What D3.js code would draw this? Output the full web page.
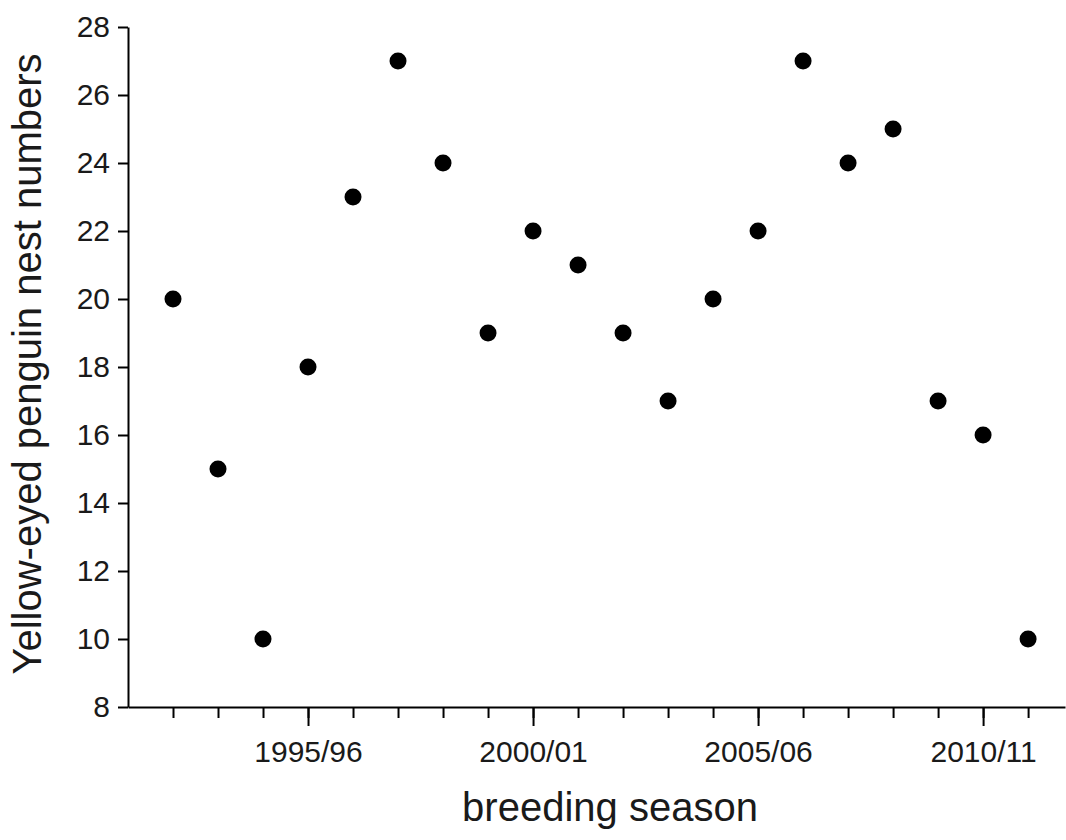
<!DOCTYPE html>
<html>
<head>
<meta charset="utf-8" />
<title>Yellow-eyed penguin nests</title>
<script src="https://cdn.jsdelivr.net/npm/d3@7"></script>
<style>
    body { margin: 0; background: #fff; }
    svg { display: block; font-family: "Liberation Sans", Arial, sans-serif; }
    .axis path, .axis line { stroke: #000; stroke-width: 2px; }
    .axis text { fill: #1a1a1a; font-size: 30px; }
</style>
</head>
<body>
<svg id="CHART" width="1066" height="840"></svg>
<script>
    // breeding season start years and nest counts
    var seasons = [1992, 1993, 1994, 1995, 1996, 1997, 1998, 1999, 2000, 2001,
                   2002, 2003, 2004, 2005, 2006, 2007, 2008, 2009, 2010, 2011];
    var nests = [20, 15, 10, 18, 23, 27, 24, 19, 22, 21,
                 19, 17, 20, 22, 27, 24, 25, 17, 16, 10];
    var majorYears = [1995, 2000, 2005, 2010];
    var majorLabels = ["1995/96", "2000/01", "2005/06", "2010/11"];
    var yTicks = [8, 10, 12, 14, 16, 18, 20, 22, 24, 26, 28];

    var svg = d3.select("#CHART");

    var x = d3.scaleLinear().domain([1991, 2011.82]).range([128, 1065]);
    var y = d3.scaleLinear().domain([8, 28]).range([707, 27]);

    //minor ticks every season
    svg.append("g")
        .attr("class", "axis")
        .attr("transform", "translate(0," + y(8) + ")")
        .call(d3.axisBottom(x).tickValues(seasons).tickSize(11).tickSizeOuter(0).tickFormat(""));

    //major ticks with labels
    var xMajor = svg.append("g")
        .attr("class", "axis")
        .attr("transform", "translate(0," + y(8) + ")")
        .call(d3.axisBottom(x).tickValues(majorYears).tickSize(19).tickSizeOuter(0)
            .tickFormat(function (d, i) { return majorLabels[i]; }));
    xMajor.select(".domain").remove();
    xMajor.selectAll("text").attr("y", 55).attr("dy", 0);

    var yAxis = svg.append("g")
        .attr("class", "axis")
        .attr("transform", "translate(" + x(1991) + ",0)")
        .call(d3.axisLeft(y).tickValues(yTicks).tickSize(10).tickSizeOuter(0));
    yAxis.selectAll("text").attr("x", -18);

    svg.append("g").selectAll("circle")
        .data(seasons)
        .enter().append("circle")
        .attr("cx", function (d) { return x(d); })
        .attr("cy", function (d, i) { return y(nests[i]); })
        .attr("r", 8.5)
        .attr("fill", "#000");

    svg.append("text")
        .attr("x", 610).attr("y", 821)
        .attr("text-anchor", "middle")
        .attr("font-size", 40)
        .attr("fill", "#1a1a1a")
        .text("breeding season");

    svg.append("text")
        .attr("transform", "translate(41,364) rotate(-90)")
        .attr("text-anchor", "middle")
        .attr("font-size", 40)
        .attr("fill", "#1a1a1a")
        .text("Yellow-eyed penguin nest numbers");
</script>
</body>
</html>
